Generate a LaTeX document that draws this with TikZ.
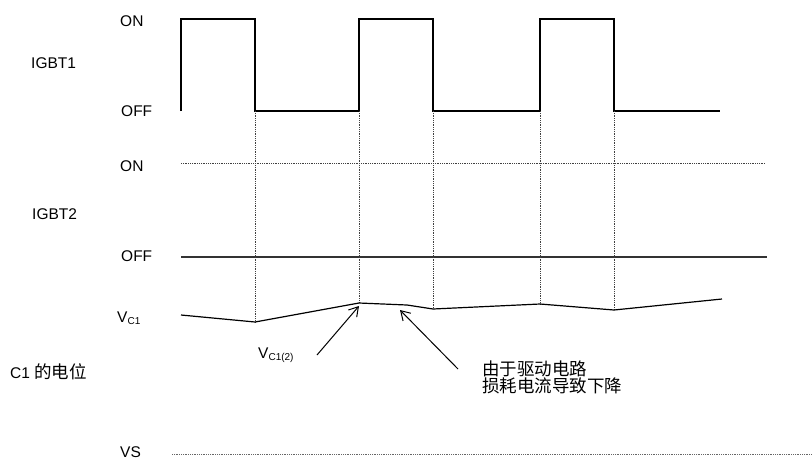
\documentclass[tikz,border=0pt]{standalone}
\usepackage{fontspec}
\setmainfont{Liberation Sans}
\newfontfamily\cjk{Noto Sans CJK SC}
\usetikzlibrary{arrows.meta}
\begin{document}
\begin{tikzpicture}[x=1pt,y=-1pt,
  lbl/.style={anchor=base west,inner sep=0pt,font=\fontsize{15.5}{18}\selectfont},
  cjklbl/.style={anchor=base west,inner sep=0pt,font=\fontsize{17.5}{20}\selectfont\cjk},
  wave/.style={line width=1.2pt,black,line join=miter},
  guide/.style={line width=0.7pt,black!75,dash pattern=on 0.9pt off 0.9pt},
  offline/.style={line width=1.1pt,black!80},
  callout/.style={line width=1pt,black,-{Straight Barb[length=9pt,width=11pt,line width=1pt]}}]
\useasboundingbox (0,0) rectangle (812,459);

% labels
\node[lbl] (on1) at (120,26) {ON};
\node[lbl] (igbt1) at (31,68) {IGBT1};
\node[lbl] (off1) at (121,116) {OFF};
\node[lbl] (on2) at (120,171) {ON};
\node[lbl] (igbt2) at (32,219) {IGBT2};
\node[lbl] (off2) at (121,261) {OFF};
\node[lbl] (vc1) at (117,322) {V\textsubscript{\fontsize{10}{11}\selectfont C1}};
\node[lbl] (c1pot) at (10,378) {C1 {\cjk\fontsize{17.5}{20}\selectfont 的电位}};
\node[lbl] (vc12) at (258,358) {V\textsubscript{\fontsize{10}{11}\selectfont C1(2)}};
\node[cjklbl] (note1) at (482,375) {由于驱动电路};
\node[cjklbl] (note2) at (482,392) {损耗电流导致下降};
\node[lbl] (vs) at (120,457) {VS};

% VC1 curve points
\coordinate (p0) at (181,315);
\coordinate (p1) at (255,322);
\coordinate (p2) at (359,303);
\coordinate (p3) at (407,305);
\coordinate (p4) at (433,309);
\coordinate (p5) at (540,304);
\coordinate (p6) at (614,310);
\coordinate (p7) at (722,299);

% IGBT1 waveform
\draw[wave] (181,111) -- (181,19) -- (255,19) -- (255,111) -- (359,111) -- (359,19)
  -- (433,19) -- (433,111) -- (540,111) -- (540,19) -- (614,19) -- (614,111) -- (720,111);

% IGBT2 levels
\draw[guide] (181,163) -- (765,163);
\draw[offline] (181,257) -- (767,257);

% vertical guides
\foreach \x/\p in {255/p1,359/p2,433/p4,540/p5,614/p6}
  \draw[guide] (\x,111) -- (\p);

% VC1 curve
\draw[line width=1.2pt] (p0) -- (p1) -- (p2) -- (p3) -- (p4) -- (p5) -- (p6) -- (p7);

% VS line
\draw[guide,black!60] (172,454) -- (812,454);

% callouts
\coordinate (t1) at (317,355);
\coordinate (t2) at (458,369);
\draw[callout] (t1) -- (359,306);
\draw[callout] (t2) -- (400,310);
\end{tikzpicture}
\end{document}
